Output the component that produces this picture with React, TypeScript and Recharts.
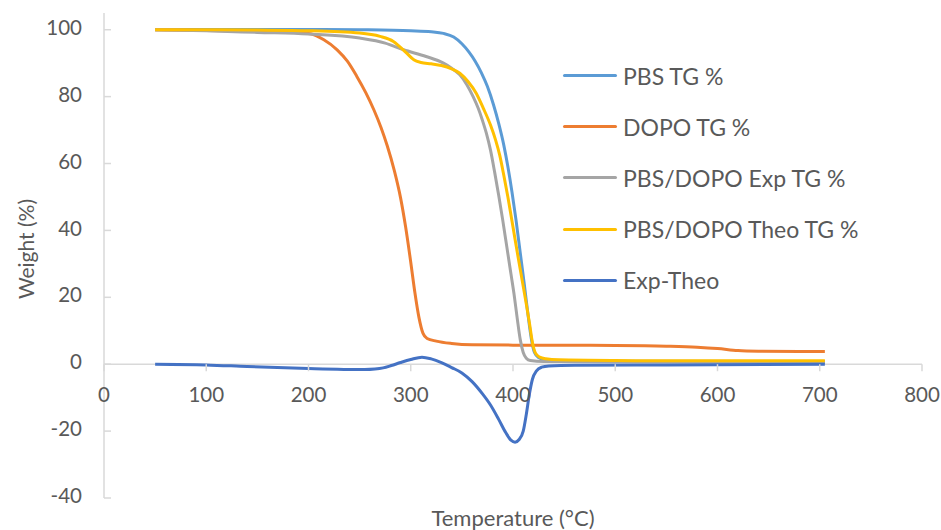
import {
  Line,
  LineChart,
  ReferenceLine,
  XAxis,
  YAxis,
} from "recharts";

type Point = [number, number];

// TGA curves, [temperature °C, weight %]
const pbsTG: Point[] = [
  [50, 100], [100, 100.1], [200, 100.1], [250, 100], [300, 99.7], [320, 99.4],
  [332, 98.9], [342, 97.8], [350, 95.8], [357, 93.3], [363, 90.6], [369, 87.2],
  [375, 83], [381, 77.5], [386, 72], [391, 65.5], [395, 59], [399, 51.5],
  [403, 43], [407, 33.5], [411, 24], [415, 14], [418, 7.5], [421, 3.5],
  [425, 2], [432, 1.3], [450, 1], [500, 0.9], [705, 0.8],
];

const dopoTG: Point[] = [
  [50, 100], [100, 99.8], [150, 99.5], [190, 99.2], [202, 98.8], [215, 97],
  [228, 94], [238, 90.6], [247, 86.2], [256, 81.2], [264, 76], [271, 70.7],
  [277, 65.3], [284, 57.8], [290, 49.8], [295, 41], [300, 30.5], [304, 21.5],
  [308, 14], [312, 9.2], [316, 7.7], [325, 6.9], [340, 6.2], [360, 5.8],
  [400, 5.7], [500, 5.6], [550, 5.4], [580, 5.1], [600, 4.7], [620, 4.1],
  [640, 3.9], [680, 3.8], [705, 3.8],
];

const blendExpTG: Point[] = [
  [50, 100], [100, 99.7], [150, 99.2], [200, 98.7], [250, 97.5], [275, 96],
  [293, 94], [315, 92], [332, 90], [340, 88.5], [348, 86.5], [355, 83.5],
  [361, 80], [366, 76.5], [370, 73], [374, 69], [378, 64], [382, 57.5],
  [386, 50.5], [390, 43], [394, 35], [398, 27], [401, 21], [404, 14],
  [407, 7.5], [410, 3.5], [413, 1.8], [417, 1.1], [430, 0.8], [500, 0.7],
  [600, 0.6], [705, 0.5],
];

const blendTheoTG: Point[] = [
  [50, 100], [100, 100], [150, 99.9], [200, 99.7], [250, 99], [270, 98],
  [283, 96.5], [296, 93], [303, 91], [310, 90.2], [320, 89.8], [330, 89.3],
  [340, 88.3], [348, 87], [356, 84.5], [364, 81], [371, 76.5], [378, 71.5],
  [383, 67], [387, 62.5], [391, 56.5], [395, 50], [400, 41], [405, 32],
  [409, 25], [413, 18], [416, 12.5], [419, 6.5], [422, 3.3], [426, 2.1],
  [432, 1.6], [445, 1.3], [500, 1.1], [600, 1], [705, 1],
];

const expMinusTheo: Point[] = [
  [50, 0], [100, -0.2], [140, -0.7], [200, -1.3], [255, -1.6], [265, -1.45],
  [273, -1.1], [281, -0.4], [290, 0.5], [300, 1.4], [311, 2.1], [320, 1.6],
  [330, 0.5], [340, -1], [350, -2.6], [360, -5.2], [370, -8.8], [378, -12.2],
  [386, -16.5], [393, -20.5], [398, -22.7], [402, -23.3], [406, -22.5], [410, -20],
  [413, -15], [416, -9], [419, -4.5], [423, -2], [428, -0.9], [435, -0.5],
  [460, -0.3], [550, -0.2], [705, 0],
];

const xTicks = [0, 100, 200, 300, 400, 500, 600, 700, 800];
const yTicks = [-40, -20, 0, 20, 40, 60, 80, 100];

const series = [
  { name: "PBS TG %", color: "#5B9BD5", points: pbsTG },
  { name: "DOPO TG %", color: "#ED7D31", points: dopoTG },
  { name: "PBS/DOPO Exp TG %", color: "#A5A5A5", points: blendExpTG },
  { name: "PBS/DOPO Theo TG %", color: "#FFC000", points: blendTheoTG },
  { name: "Exp-Theo", color: "#4472C4", points: expMinusTheo },
];

const WIDTH = 941;
const HEIGHT = 530;
const Y_MIN = -40;
const Y_MAX = 105;
const MARGIN = { top: 13, right: 19, bottom: 0, left: 44 };
const Y_AXIS_WIDTH = 60;
const X_AXIS_HEIGHT = 32;
const PLOT_LEFT = MARGIN.left + Y_AXIS_WIDTH;
const PLOT_HEIGHT = HEIGHT - MARGIN.top - MARGIN.bottom - X_AXIS_HEIGHT;
// the horizontal axis crosses at weight 0
const ZERO_Y = MARGIN.top + (PLOT_HEIGHT * Y_MAX) / (Y_MAX - Y_MIN);

const FONT = "Lato, 'Open Sans', sans-serif";
const TEXT = "#595959";
const AXIS = "#D9D9D9";

function XTick({ x, payload }: any) {
  return (
    <g>
      <line x1={x} x2={x} y1={ZERO_Y} y2={ZERO_Y + 7} stroke={AXIS} strokeWidth={1.5} />
      <text
        x={x}
        y={ZERO_Y + 33}
        textAnchor="middle"
        dominantBaseline="middle"
        fill={TEXT}
        fontSize={20.5}
        fontFamily={FONT}
      >
        {payload.value}
      </text>
    </g>
  );
}

function YTick({ y, payload }: any) {
  return (
    <g>
      <line x1={PLOT_LEFT} x2={PLOT_LEFT + 7} y1={y} y2={y} stroke={AXIS} strokeWidth={1.5} />
      <text
        x={PLOT_LEFT - 22}
        y={y}
        textAnchor="end"
        dominantBaseline="middle"
        fill={TEXT}
        fontSize={20.5}
        fontFamily={FONT}
      >
        {payload.value}
      </text>
    </g>
  );
}

function LegendBox() {
  return (
    <div
      style={{
        position: "absolute",
        left: 563,
        top: 50,
        fontFamily: FONT,
        color: TEXT,
        fontSize: 23,
      }}
    >
      {series.map((s) => (
        <div key={s.name} style={{ display: "flex", alignItems: "center", height: 51.2 }}>
          <div style={{ width: 54, height: 3, background: s.color, borderRadius: 2, marginRight: 6 }} />
          <span>{s.name}</span>
        </div>
      ))}
    </div>
  );
}

export default function App() {
  return (
    <div style={{ position: "absolute", top: 0, left: 0, width: WIDTH, height: HEIGHT, background: "#fff" }}>
      <LineChart width={WIDTH} height={HEIGHT} margin={MARGIN}>
        <XAxis
          type="number"
          dataKey="0"
          domain={[0, 800]}
          ticks={xTicks}
          height={X_AXIS_HEIGHT}
          axisLine={false}
          tickLine={false}
          tick={<XTick />}
          interval={0}
          allowDataOverflow
        />
        <YAxis
          type="number"
          domain={[Y_MIN, Y_MAX]}
          ticks={yTicks}
          width={Y_AXIS_WIDTH}
          axisLine={{ stroke: AXIS, strokeWidth: 1.5 }}
          tickLine={false}
          tick={<YTick />}
          interval={0}
          allowDataOverflow
        />
        <ReferenceLine y={0} stroke={AXIS} strokeWidth={1.5} />
        {series.map((s) => (
          <Line
            key={s.name}
            name={s.name}
            data={s.points}
            dataKey="1"
            type="monotone"
            stroke={s.color}
            strokeWidth={3}
            dot={false}
            activeDot={false}
            isAnimationActive={false}
          />
        ))}
      </LineChart>
      <LegendBox />
      <div
        style={{
          position: "absolute",
          left: 25,
          top: 249,
          transform: "translate(-50%, -50%) rotate(-90deg)",
          whiteSpace: "nowrap",
          fontFamily: FONT,
          fontSize: 21,
          color: TEXT,
        }}
      >
        Weight (%)
      </div>
      <div
        style={{
          position: "absolute",
          left: 513,
          top: 517,
          transform: "translate(-50%, -50%)",
          whiteSpace: "nowrap",
          fontFamily: FONT,
          fontSize: 22,
          color: TEXT,
        }}
      >
        Temperature (°C)
      </div>
    </div>
  );
}
